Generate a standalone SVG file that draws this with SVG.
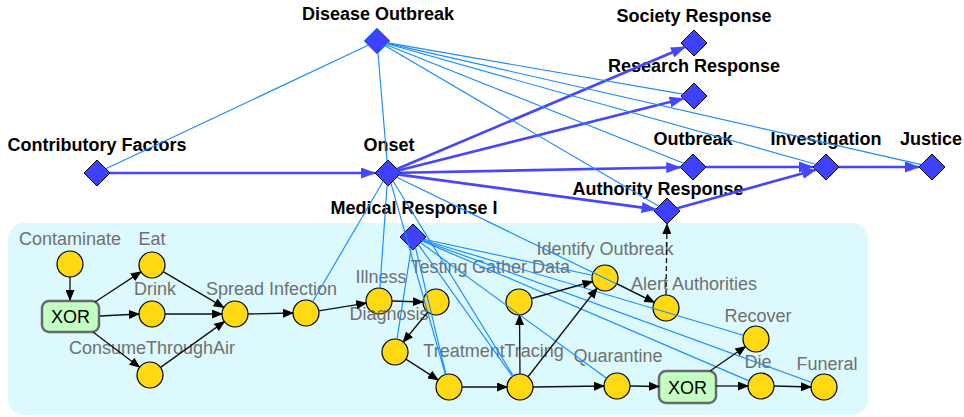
<svg xmlns="http://www.w3.org/2000/svg" width="964" height="417" viewBox="0 0 964 417">
<style>
.bl{font-family:"Liberation Sans",Arial,sans-serif;font-weight:bold;font-size:18px;fill:#000;text-anchor:middle}
.gl{font-family:"Liberation Sans",Arial,sans-serif;font-size:18px;fill:#707070;text-anchor:middle}
.xt{font-family:"Liberation Sans",Arial,sans-serif;font-size:18px;fill:#000;text-anchor:middle}
.dia{fill:#4040ff;stroke:#000;stroke-width:1}
.cir{fill:#ffd912;stroke:#000;stroke-width:1.2}
.xor{fill:#c2ffc2;stroke:#6a6a6a;stroke-width:2.5}
.thick{stroke:#4646ff;stroke-width:2.6;fill:none;marker-end:url(#ab)}
.thin{stroke:#1a8cff;stroke-width:1.15;fill:none}
.blk{stroke:#111;stroke-width:1.3;fill:none;marker-end:url(#ak)}
</style>
<defs>
<marker id="ab" markerUnits="userSpaceOnUse" markerWidth="15" markerHeight="11" refX="14" refY="5.5" orient="auto"><path d="M0,0 L15,5.5 L0,11 z" fill="#4646ff"/></marker>
<marker id="ak" markerUnits="userSpaceOnUse" markerWidth="11" markerHeight="9" refX="10" refY="4.5" orient="auto"><path d="M0,0 L11,4.5 L0,9 z" fill="#000"/></marker>
</defs>
<rect x="8" y="223" width="860" height="192" rx="16" fill="#dcf9fd"/>

<g id="disease-outbreak"><path class="dia" style="stroke:#1e90ff" d="M377,28 L390,41 L377,54 L364,41 z"/><text class="bl" x="378" y="20">Disease Outbreak</text></g>
<g id="society-response"><path class="dia" d="M694,30 L707,43 L694,56 L681,43 z"/><text class="bl" x="694" y="22">Society Response</text></g>
<g id="research-response"><path class="dia" d="M694,83 L707,96 L694,109 L681,96 z"/><text class="bl" x="694" y="72">Research Response</text></g>
<g id="contributory-factors"><path class="dia" d="M97,160 L110,173 L97,186 L84,173 z"/><text class="bl" x="97" y="151">Contributory Factors</text></g>
<g id="onset"><path class="dia" d="M388,160 L401,173 L388,186 L375,173 z"/><text class="bl" x="389" y="151">Onset</text></g>
<g id="outbreak"><path class="dia" d="M693,154 L706,167 L693,180 L680,167 z"/><text class="bl" x="693" y="145">Outbreak</text></g>
<g id="investigation"><path class="dia" d="M826,154 L839,167 L826,180 L813,167 z"/><text class="bl" x="826" y="145">Investigation</text></g>
<g id="justice"><path class="dia" d="M932,154 L945,167 L932,180 L919,167 z"/><text class="bl" x="931" y="145">Justice</text></g>
<g id="authority-response"><path class="dia" d="M667,198 L680,211 L667,224 L654,211 z"/><text class="bl" x="658" y="195">Authority Response</text></g>
<g id="medical-response-i"><path class="dia" d="M413,224 L426,237 L413,250 L400,237 z"/><text class="bl" x="414" y="214">Medical Response I</text></g>

<g id="contaminate"><circle class="cir" cx="70" cy="264" r="13"/><text class="gl" x="70" y="245">Contaminate</text></g>
<g id="xor1"><rect class="xor" x="42" y="301" width="57" height="31" rx="7"/><text class="xt" x="70.5" y="323">XOR</text></g>
<g id="eat"><circle class="cir" cx="152" cy="265" r="13"/><text class="gl" x="152" y="245">Eat</text></g>
<g id="drink"><circle class="cir" cx="152" cy="314" r="13"/><text class="gl" x="155" y="295">Drink</text></g>
<g id="consume-through-air"><circle class="cir" cx="150" cy="375" r="13"/><text class="gl" x="152" y="354">ConsumeThroughAir</text></g>
<g id="spread"><circle class="cir" cx="235" cy="314" r="13"/><text class="gl" x="235" y="295">Spread</text></g>
<g id="infection"><circle class="cir" cx="306" cy="313" r="13"/><text class="gl" x="303" y="295">Infection</text></g>
<g id="illness"><circle class="cir" cx="379" cy="301" r="13"/><text class="gl" x="381" y="283">Illness</text></g>
<g id="testing"><circle class="cir" cx="436" cy="302" r="13"/><text class="gl" x="439" y="273">Testing</text></g>
<g id="diagnosis"><circle class="cir" cx="395" cy="352" r="13"/><text class="gl" x="389" y="320">Diagnosis</text></g>
<g id="treatment"><circle class="cir" cx="449" cy="387" r="13"/><text class="gl" x="464" y="357">Treatment</text></g>
<g id="tracing"><circle class="cir" cx="520" cy="387" r="13"/><text class="gl" x="534" y="357">Tracing</text></g>
<g id="gather-data"><circle class="cir" cx="519" cy="302" r="13"/><text class="gl" x="521" y="273">Gather Data</text></g>
<g id="identify-outbreak"><circle class="cir" cx="605" cy="278" r="13"/><text class="gl" x="605" y="255">Identify Outbreak</text></g>
<g id="quarantine"><circle class="cir" cx="617" cy="386" r="13"/><text class="gl" x="618" y="362">Quarantine</text></g>
<g id="alert-authorities"><circle class="cir" cx="666" cy="308" r="13"/><text class="gl" x="694" y="290">Alert Authorities</text></g>
<g id="recover"><circle class="cir" cx="756" cy="339" r="13"/><text class="gl" x="758" y="322">Recover</text></g>
<g id="xor2"><rect class="xor" x="659" y="371" width="57" height="32" rx="7"/><text class="xt" x="687.5" y="394">XOR</text></g>
<g id="die"><circle class="cir" cx="761" cy="386" r="13"/><text class="gl" x="758" y="368">Die</text></g>
<g id="funeral"><circle class="cir" cx="824" cy="387" r="13"/><text class="gl" x="827" y="370">Funeral</text></g>

<g id="connectors">
<line class="thick" x1="110" y1="173" x2="375" y2="173"/>
<line class="thick" x1="397" y1="169" x2="685" y2="47"/>
<line class="thick" x1="398.4" y1="170.4" x2="683.6" y2="98.6"/>
<line class="thick" x1="400.7" y1="172.7" x2="680.3" y2="167.3"/>
<line class="thick" x1="399.4" y1="174.6" x2="655.6" y2="209.4"/>
<line class="thick" x1="706" y1="167" x2="813" y2="167"/>
<line class="thick" x1="677.2" y1="208.2" x2="815.8" y2="169.8"/>
<line class="thick" x1="839" y1="167" x2="919" y2="167"/>

<line class="thin" x1="368.2" y1="45.2" x2="105.8" y2="168.8"/>
<line class="thin" x1="378" y1="53" x2="387" y2="161"/>
<line class="thin" x1="388.1" y1="42.9" x2="682.9" y2="94.1"/>
<line class="thin" x1="386.3" y1="44.7" x2="683.7" y2="163.3"/>
<line class="thin" x1="387.2" y1="43.8" x2="815.8" y2="164.2"/>
<line class="thin" x1="387.6" y1="43.4" x2="921.4" y2="164.6"/>
<line class="thin" x1="385.2" y1="45.8" x2="658.8" y2="206.2"/>

<line class="thin" x1="383.2" y1="181.2" x2="312.6" y2="301.8"/>
<line class="thin" x1="387.1" y1="185.1" x2="379.9" y2="288"/>
<line class="thin" x1="390.9" y1="183.1" x2="445.4" y2="374.5"/>
<line class="thin" x1="393" y1="181" x2="513.2" y2="375.9"/>
<line class="thin" x1="396.75" y1="177.25" x2="654.3" y2="302.3"/>

<line class="thin" x1="411.2" y1="248.2" x2="397" y2="339.2"/>
<line class="thin" x1="415.5" y1="247.5" x2="446" y2="374.4"/>
<line class="thin" x1="418.4" y1="244.6" x2="512.5" y2="376.4"/>
<line class="thin" x1="420.5" y1="242.5" x2="606.5" y2="378.3"/>
<line class="thin" x1="423.7" y1="239.3" x2="592.3" y2="275.3"/>
<line class="thin" x1="423" y1="240" x2="743.5" y2="335.3"/>
<line class="thin" x1="422.1" y1="240.9" x2="749" y2="380.9"/>
<line class="thin" x1="422.5" y1="240.5" x2="811.8" y2="382.5"/>

<line class="blk" x1="70" y1="277" x2="70" y2="300"/>
<line class="blk" x1="95" y1="302" x2="141" y2="271.9"/>
<line class="blk" x1="100" y1="316" x2="139" y2="314"/>
<line class="blk" x1="93" y1="332" x2="139.6" y2="367.2"/>
<line class="blk" x1="163.2" y1="271.6" x2="223.8" y2="307.4"/>
<line class="blk" x1="165" y1="314" x2="222" y2="314"/>
<line class="blk" x1="160.6" y1="367.4" x2="224.4" y2="321.6"/>
<line class="blk" x1="248" y1="314" x2="293" y2="313"/>
<line class="blk" x1="318.8" y1="310.9" x2="366.2" y2="303.1"/>
<line class="blk" x1="392" y1="301" x2="423" y2="302"/>
<line class="blk" x1="427.8" y1="312" x2="403.2" y2="342"/>
<line class="blk" x1="405.9" y1="359.1" x2="438.1" y2="379.9"/>
<line class="blk" x1="462" y1="387" x2="507" y2="387"/>
<line class="blk" x1="520" y1="374" x2="519.5" y2="315"/>
<line class="blk" x1="528" y1="376.75" x2="597" y2="288.25"/>
<line class="blk" x1="531.5" y1="298.5" x2="592.5" y2="281.5"/>
<line class="blk" x1="533" y1="387" x2="604" y2="386"/>
<line class="blk" x1="630" y1="386" x2="659" y2="386.5"/>
<line class="blk" x1="710" y1="371" x2="745.4" y2="346.5"/>
<line class="blk" x1="716" y1="386" x2="748" y2="386"/>
<line class="blk" x1="774" y1="386" x2="811" y2="387"/>
<line class="blk" x1="616.7" y1="283.7" x2="654.3" y2="302.3"/>
<line class="blk" x1="666" y1="295" x2="667" y2="224" stroke-dasharray="5,3"/>
</g>
</svg>
